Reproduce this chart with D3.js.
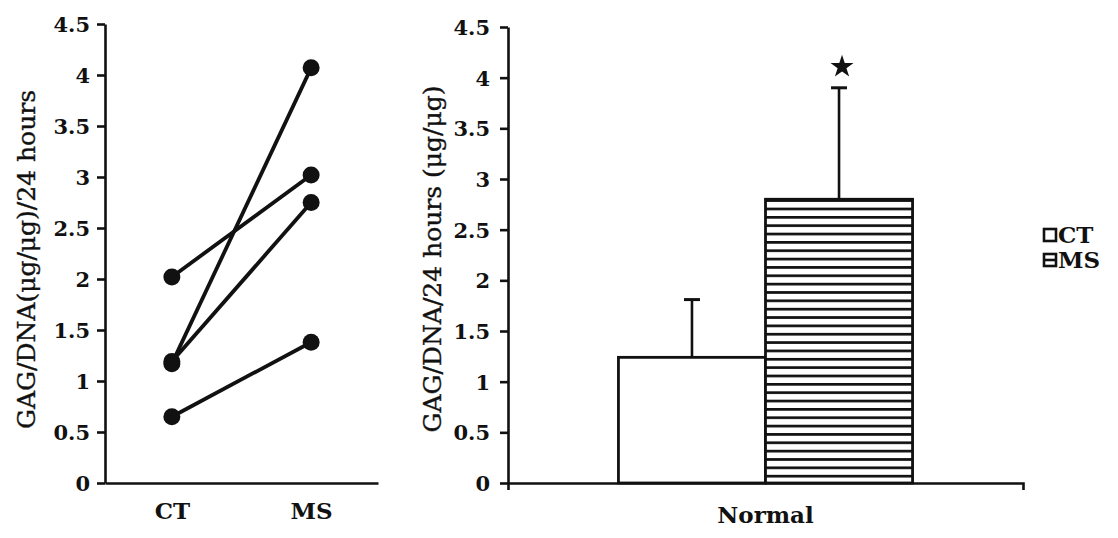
<!DOCTYPE html>
<html>
<head>
<meta charset="utf-8">
<script src="https://cdn.jsdelivr.net/npm/d3@7"></script>
<style>
  html, body { margin: 0; padding: 0; background: #fff; }
  svg { display: block; }
  .tick text, .lbl { font-family: "DejaVu Serif", serif; font-weight: bold; fill: #111; }
  .title { font-family: "DejaVu Serif", serif; fill: #111; stroke: #111; stroke-width: 0.35; }
</style>
</head>
<body>
<svg id="chart" width="1118" height="538"></svg>
<script>
// Paired measurements per subject (left panel)
const pairedCategories = ["CT", "MS"];
const subjectCT = [2.02, 1.17, 1.19, 0.65];
const subjectMS = [3.02, 4.07, 2.75, 1.38];

// Group summary (right panel)
const barGroups = ["Normal"];
const barSeries = ["CT", "MS"];
const barMeans = [1.24, 2.80];
const barErrors = [0.57, 1.10];
const significant = [false, true];

// Shared y ticks
const yTicks = [0, 0.5, 1, 1.5, 2, 2.5, 3, 3.5, 4, 4.5];
const yTickLabels = ["0", "0.5", "1", "1.5", "2", "2.5", "3", "3.5", "4", "4.5"];

const ink = "#111";
const svg = d3.select("#chart");

const defs = svg.append("defs");

// ---------- Left panel: paired lines ----------
const L = { x0: 105, x1: 378, y0: 483, y1: 24 };
const yL = d3.scaleLinear().domain([0, 4.5]).range([L.y0, L.y1]);
const xL = d3.scalePoint().domain(pairedCategories).range([L.x0, L.x1]).padding(0.48);

const gL = svg.append("g");

const yAxisL = d3.axisLeft(yL).tickValues(yTicks)
  .tickFormat((d, i) => yTickLabels[i]).tickSize(8).tickSizeOuter(0).tickPadding(7);
gL.append("g").attr("transform", `translate(${L.x0},0)`).call(yAxisL)
  .call(g => g.select(".domain").attr("stroke", ink).attr("stroke-width", 2.6))
  .call(g => g.selectAll(".tick line").attr("stroke", ink).attr("stroke-width", 2.6))
  .call(g => g.selectAll(".tick text").attr("font-size", 21).attr("dy", "0.36em"));

const xAxisL = d3.axisBottom(xL).tickSize(0).tickSizeOuter(0).tickPadding(20);
gL.append("g").attr("transform", `translate(0,${L.y0})`).call(xAxisL)
  .call(g => g.select(".domain").attr("stroke", ink).attr("stroke-width", 2.6))
  .call(g => g.selectAll(".tick text").attr("font-size", 23));

const pairs = subjectCT.map((v, i) => [v, subjectMS[i]]);
gL.append("g").selectAll("line").data(pairs).join("line")
  .attr("x1", xL("CT")).attr("y1", d => yL(d[0]))
  .attr("x2", xL("MS")).attr("y2", d => yL(d[1]))
  .attr("stroke", ink).attr("stroke-width", 3.8);

const dots = [];
pairs.forEach(p => { dots.push({ c: "CT", v: p[0] }); dots.push({ c: "MS", v: p[1] }); });
gL.append("g").selectAll("circle").data(dots).join("circle")
  .attr("cx", d => xL(d.c)).attr("cy", d => yL(d.v)).attr("r", 8.5).attr("fill", ink);

gL.append("text").attr("class", "title")
  .attr("transform", `translate(35,${(L.y0 + L.y1) / 2 + 6}) rotate(-90)`)
  .attr("text-anchor", "middle").attr("font-size", 25)
  .text("GAG/DNA(μg/μg)/24 hours");

// ---------- Right panel: bars with error bars ----------
const R = { x0: 508, x1: 1023, y0: 483, y1: 27 };
const yR = d3.scaleLinear().domain([0, 4.5]).range([R.y0, R.y1]);
const xR = d3.scaleBand().domain(barGroups).range([R.x0, R.x1]).padding(0.273);
const xSub = d3.scaleBand().domain(barSeries).range([0, xR.bandwidth()]).padding(0);

const gR = svg.append("g");

// horizontal stripe fill for the MS bar
const hatch = defs.append("pattern").attr("id", "stripes")
  .attr("patternUnits", "userSpaceOnUse")
  .attr("x", 0).attr("y", yR(barMeans[1]))
  .attr("width", 10).attr("height", 8.35);
hatch.append("rect").attr("width", 10).attr("height", 8.35).attr("fill", "#fff");
hatch.append("rect").attr("y", 0).attr("width", 10).attr("height", 2.7).attr("fill", ink);

const yAxisR = d3.axisLeft(yR).tickValues(yTicks)
  .tickFormat((d, i) => yTickLabels[i]).tickSize(8).tickSizeOuter(0).tickPadding(10);
gR.append("g").attr("transform", `translate(${R.x0},0)`).call(yAxisR)
  .call(g => g.select(".domain").attr("stroke", ink).attr("stroke-width", 2.6))
  .call(g => g.selectAll(".tick line").attr("stroke", ink).attr("stroke-width", 2.6))
  .call(g => g.selectAll(".tick text").attr("font-size", 21).attr("dy", "0.36em"));

const bars = barSeries.map((s, i) => ({ s, v: barMeans[i], e: barErrors[i], sig: significant[i] }));
const xOf = d => xR("Normal") + xSub(d.s);

// error bars (drawn first so the bar outline sits on top)
const eb = gR.append("g").selectAll("g").data(bars).join("g");
eb.append("line")
  .attr("x1", d => xOf(d) + xSub.bandwidth() / 2).attr("x2", d => xOf(d) + xSub.bandwidth() / 2)
  .attr("y1", d => yR(d.v)).attr("y2", d => yR(d.v + d.e))
  .attr("stroke", ink).attr("stroke-width", 2.6);
eb.append("line")
  .attr("x1", d => xOf(d) + xSub.bandwidth() / 2 - 8).attr("x2", d => xOf(d) + xSub.bandwidth() / 2 + 8)
  .attr("y1", d => yR(d.v + d.e)).attr("y2", d => yR(d.v + d.e))
  .attr("stroke", ink).attr("stroke-width", 3);

gR.append("g").selectAll("rect").data(bars).join("rect")
  .attr("x", d => xOf(d)).attr("y", d => yR(d.v))
  .attr("width", xSub.bandwidth()).attr("height", d => yR(0) - yR(d.v))
  .attr("fill", d => d.s === "MS" ? "url(#stripes)" : "#fff")
  .attr("stroke", ink).attr("stroke-width", 2.8);

// significance marker
gR.append("g").selectAll("path").data(bars.filter(d => d.sig)).join("path")
  .attr("d", d3.symbol().type(d3.symbolStar).size(165))
  .attr("transform", d => `translate(${xOf(d) + xSub.bandwidth() / 2 + 3},${yR(d.v + d.e) - 21})`)
  .attr("fill", ink);

const xAxisR = d3.axisBottom(xR).tickSizeInner(0).tickSizeOuter(7).tickPadding(24);
gR.append("g").attr("transform", `translate(0,${R.y0})`).call(xAxisR)
  .call(g => g.select(".domain").attr("stroke", ink).attr("stroke-width", 2.6).attr("fill", "none"))
  .call(g => g.selectAll(".tick text").attr("font-size", 23));

gR.append("text").attr("class", "title")
  .attr("transform", `translate(441,${(R.y0 + R.y1) / 2 + 4}) rotate(-90)`)
  .attr("text-anchor", "middle").attr("font-size", 25)
  .text("GAG/DNA/24 hours (μg/μg)");

// ---------- Legend ----------
const lg = svg.append("g").attr("transform", "translate(1044,229)");
const items = lg.selectAll("g").data(barSeries).join("g")
  .attr("transform", (d, i) => `translate(0,${i * 25})`);
items.append("rect").attr("x", 0).attr("y", 0).attr("width", 12).attr("height", 12)
  .attr("fill", "#fff").attr("stroke", ink).attr("stroke-width", 2.6);
items.filter(d => d === "MS").append("line")
  .attr("x1", 0).attr("x2", 12).attr("y1", 6).attr("y2", 6)
  .attr("stroke", ink).attr("stroke-width", 2.6);
items.append("text").attr("class", "lbl").attr("x", 14).attr("y", 13.5)
  .attr("font-size", 23).text(d => d);
</script>
</body>
</html>
